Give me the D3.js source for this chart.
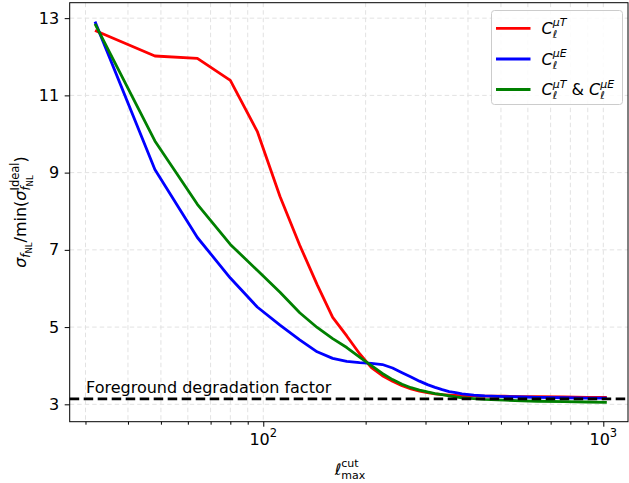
<!DOCTYPE html>
<html><head><meta charset="utf-8">
<script src="https://cdn.jsdelivr.net/npm/d3@7"></script>
<style>body{margin:0;background:#fff} svg{display:block} text{font-family:"DejaVu Sans",sans-serif;fill:#000;white-space:pre}</style>
</head><body><svg id="c" width="629" height="483"></svg>
<script>
// ---- data ----
const ell = [32,48,64,80,96,112,128,144,160,176,192,208,224,240,256,272,288,304,320,336,352,368,384,416,448,512,576,640,768,896,1024];
const sigmaMuT = [12.68,12.02,11.96,11.39,10.07,8.38,7.12,6.10,5.25,4.77,4.31,3.95,3.74,3.60,3.48,3.40,3.34,3.30,3.27,3.25,3.24,3.23,3.22,3.22,3.21,3.21,3.20,3.20,3.19,3.18,3.18];
const sigmaMuE = [12.91,9.08,7.32,6.27,5.52,5.05,4.67,4.36,4.19,4.11,4.08,4.06,4.03,3.94,3.82,3.71,3.60,3.51,3.44,3.38,3.33,3.30,3.27,3.24,3.22,3.20,3.19,3.18,3.17,3.16,3.16];
const sigmaBoth = [12.85,9.82,8.18,7.14,6.47,5.90,5.37,4.99,4.70,4.47,4.22,4.00,3.80,3.64,3.52,3.43,3.37,3.32,3.28,3.25,3.22,3.19,3.17,3.15,3.13,3.11,3.09,3.08,3.07,3.06,3.05];
const seriesKeys = ["muT","muE","both"];
const seriesColors = ["#ff0000","#0000ff","#008000"];
const degradationFactor = 3.14;
const degradationLabel = "Foreground degradation factor";
const xMajorTicks = [100, 1000];
const xMajorExp = ["2", "3"];
const xMinorTicks = [30,40,50,60,70,80,90,200,300,400,500,600,700,800,900];
const yTicks = [3,5,7,9,11,13];

// ---- layout ----
const svg = d3.select("#c");
const L = 69.7, R = 628, T = 2.7, B = 421.7;
const x = d3.scaleLog().domain([26.96, 1182]).range([L, R]);
const y = d3.scaleLinear().domain([2.55, 13.40]).range([B, T]);

// grid
const grid = svg.append("g");
xMajorTicks.concat(xMinorTicks).forEach(v => {
  grid.append("line").attr("x1", x(v)).attr("x2", x(v)).attr("y1", T).attr("y2", B)
    .attr("stroke", "#e2e2e2").attr("stroke-width", 1).attr("stroke-dasharray", "4.5,3");
});
yTicks.forEach(v => {
  grid.append("line").attr("x1", L).attr("x2", R).attr("y1", y(v)).attr("y2", y(v))
    .attr("stroke", "#e2e2e2").attr("stroke-width", 1).attr("stroke-dasharray", "4.5,3");
});

// curves
const series = [sigmaMuT, sigmaMuE, sigmaBoth];
const line = d3.line().x((d, i) => x(ell[i])).y(d => y(d));
series.forEach((s, k) => {
  svg.append("path").datum(s).attr("d", line).attr("fill", "none")
    .attr("stroke", seriesColors[k]).attr("stroke-width", 2.8)
    .attr("stroke-linejoin", "round").attr("stroke-linecap", "butt");
});

// dashed reference line
svg.append("line").attr("x1", L).attr("x2", R).attr("y1", y(degradationFactor)).attr("y2", y(degradationFactor))
  .attr("stroke", "#000").attr("stroke-width", 2.6).attr("stroke-dasharray", "9.5,4.5");
svg.append("text").attr("x", 86).attr("y", 393).attr("font-size", 16).text(degradationLabel);

// axes
const yAxis = svg.append("g").attr("transform", `translate(${L},0)`)
  .call(d3.axisLeft(y).tickValues(yTicks).tickSize(5).tickPadding(5.5).tickFormat(d3.format("d")));
yAxis.select(".domain").remove();
yAxis.selectAll("text").attr("font-size", 16).attr("font-family", "DejaVu Sans");
yAxis.selectAll("line").attr("stroke-width", 1);

const xMinor = svg.append("g").attr("transform", `translate(0,${B})`)
  .call(d3.axisBottom(x).tickValues(xMinorTicks).tickSize(3).tickFormat(""));
xMinor.select(".domain").remove();
const xMajor = svg.append("g").attr("transform", `translate(0,${B})`)
  .call(d3.axisBottom(x).tickValues(xMajorTicks).tickSize(5).tickFormat(""));
xMajor.select(".domain").remove();

// math helper
function mathRun(g, x0, y0, parts, anchor) {
  const grp = g.append("g");
  let cx = 0;
  function put(p, xx) {
    const el = grp.append("text").attr("x", xx).attr("y", p.dy || 0)
      .attr("font-size", p.fs).attr("font-style", p.it ? "italic" : "normal").text(p.t);
    return el.node().getComputedTextLength();
  }
  parts.forEach(p => {
    if (p.stack) {
      let w = 0;
      p.stack.forEach(seq => {
        let sx = cx;
        seq.forEach(q => { sx += put(q, sx); });
        w = Math.max(w, sx - cx);
      });
      cx += w;
    } else cx += put(p, cx);
  });
  const off = anchor === "middle" ? -cx / 2 : anchor === "end" ? -cx : 0;
  grp.attr("transform", `translate(${x0 + off},${y0})`);
  return grp;
}

// x tick labels 10^n
xMajorTicks.forEach((v, i) => {
  mathRun(svg, x(v), 445, [{t: "10", fs: 16}, {t: xMajorExp[i], fs: 11.5, dy: -8}], "middle");
});

// x label
mathRun(svg, 350, 475, [
  {t: "ℓ", fs: 16, it: true},
  {stack: [[{t: "cut", fs: 11, dy: -8.5}], [{t: "max", fs: 11, dy: 3.5}]]}
], "middle");

// y label (rotated)
const yl = svg.append("g").attr("transform", `translate(26,212) rotate(-90)`);
mathRun(yl, 0, 0, [
  {t: "σ", fs: 16, it: true},
  {t: "f", fs: 11.5, it: true, dy: 3.5},
  {t: "NL", fs: 8.5, dy: 6},
  {t: "/min(", fs: 16},
  {t: "σ", fs: 16, it: true},
  {stack: [[{t: "Ideal", fs: 11.5, dy: -7.5}], [{t: "f", fs: 11.5, it: true, dy: 4}, {t: "NL", fs: 8.5, dy: 6.5}]]},
  {t: ")", fs: 16}
], "middle");

// frame
svg.append("rect").attr("x", L).attr("y", T).attr("width", R - L).attr("height", B - T)
  .attr("fill", "none").attr("stroke", "#000").attr("stroke-width", 1);

// legend
const lg = svg.append("g");
lg.append("rect").attr("x", 491.5).attr("y", 10.5).attr("width", 131).attr("height", 94).attr("rx", 3)
  .attr("fill", "#fff").attr("fill-opacity", 0.85).attr("stroke", "#cccccc").attr("stroke-width", 1);
function cl(sup) {
  return [{t: "C", fs: 16, it: true}, {stack: [[{t: sup, fs: 11, it: true, dy: -7.5}], [{t: "ℓ", fs: 11, it: true, dy: 4}]]}];
}
const legendParts = [cl("μT"), cl("μE"), cl("μT").concat([{t: "\u00a0&\u00a0", fs: 16}], cl("μE"))];
const legendY = [28.3, 59, 89.5];
seriesKeys.forEach((k, i) => {
  lg.append("line").attr("x1", 496).attr("x2", 530.5).attr("y1", legendY[i]).attr("y2", legendY[i])
    .attr("stroke", seriesColors[i]).attr("stroke-width", 2.8);
  mathRun(lg, 541.5, legendY[i] + 5.5, legendParts[i], "start");
});
</script></body></html>
